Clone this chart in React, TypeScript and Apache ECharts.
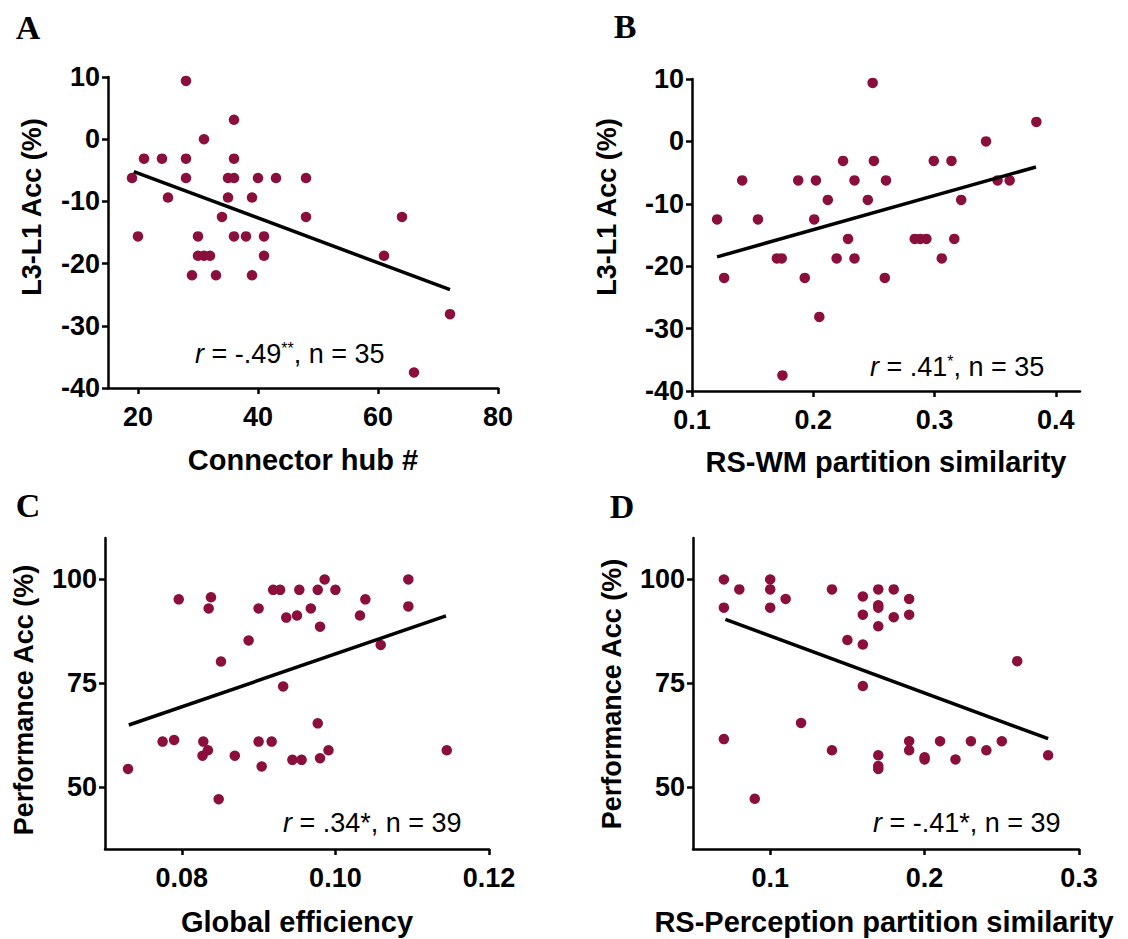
import React, { useEffect, useRef } from "react";
import * as echarts from "echarts";

// Panel A: Connector hub # vs L3-L1 Acc (%)
const hubCount = [28, 36, 31, 21, 24, 28, 36, 19, 28, 35, 36, 40, 43, 48, 25, 35, 39, 34, 48, 64, 20, 30, 36, 38, 41, 30, 31, 32, 41, 61, 29, 33, 39, 72, 66];
const accDiffA = [9.375, 3.125, 0, -3.125, -3.125, -3.125, -3.125, -6.25, -6.25, -6.25, -6.25, -6.25, -6.25, -6.25, -9.375, -9.375, -9.375, -12.5, -12.5, -12.5, -15.625, -15.625, -15.625, -15.625, -15.625, -18.75, -18.75, -18.75, -18.75, -18.75, -21.875, -21.875, -21.875, -28.125, -37.5];
const fitA = [[19.3, -5.2], [72, -24.2]];

// Panel B: RS-WM partition similarity vs L3-L1 Acc (%)
const rsWm = [0.249, 0.384, 0.3425, 0.2246, 0.25, 0.2994, 0.314, 0.1414, 0.1876, 0.2022, 0.234, 0.26, 0.352, 0.362, 0.212, 0.245, 0.322, 0.1207, 0.1544, 0.2008, 0.2287, 0.2837, 0.2883, 0.2933, 0.3163, 0.17, 0.174, 0.2193, 0.234, 0.306, 0.1265, 0.193, 0.259, 0.205, 0.1746];
const accDiffB = [9.375, 3.125, 0, -3.125, -3.125, -3.125, -3.125, -6.25, -6.25, -6.25, -6.25, -6.25, -6.25, -6.25, -9.375, -9.375, -9.375, -12.5, -12.5, -12.5, -15.625, -15.625, -15.625, -15.625, -15.625, -18.75, -18.75, -18.75, -18.75, -18.75, -21.875, -21.875, -21.875, -28.125, -37.5];
const fitB = [[0.1207, -18.5], [0.3837, -4.1]];

// Panel C: Global efficiency vs Performance Acc (%)
const globalEff = [0.0796, 0.0838, 0.0835, 0.09, 0.0919, 0.0928, 0.0953, 0.0977, 0.0986, 0.1, 0.0936, 0.095, 0.0968, 0.098, 0.1039, 0.1032, 0.1095, 0.1095, 0.0887, 0.0851, 0.1059, 0.0932, 0.0977, 0.0775, 0.079, 0.0828, 0.0834, 0.0827, 0.0869, 0.09, 0.0917, 0.0904, 0.0944, 0.0956, 0.098, 0.0991, 0.1145, 0.073, 0.0848];
const perfC = [95.2, 95.7, 93.0, 93.0, 97.5, 97.5, 97.5, 97.5, 100, 97.5, 90.8, 91.3, 93.0, 88.6, 95.2, 91.3, 100, 93.5, 85.3, 80.2, 84.2, 74.2, 65.3, 60.9, 61.3, 60.9, 58.8, 57.5, 57.5, 60.9, 60.9, 54.9, 56.5, 56.5, 56.9, 58.8, 58.8, 54.3, 47.0];
const fitC = [[0.0731, 64.9], [0.1144, 91.2]];

// Panel D: RS-Perception partition similarity vs Performance Acc (%)
const rsPerc = [0.07, 0.08, 0.10, 0.10, 0.07, 0.10, 0.11, 0.14, 0.16, 0.17, 0.18, 0.19, 0.16, 0.17, 0.17, 0.18, 0.19, 0.17, 0.15, 0.16, 0.26, 0.16, 0.12, 0.07, 0.14, 0.19, 0.19, 0.17, 0.17, 0.17, 0.20, 0.21, 0.22, 0.23, 0.24, 0.25, 0.28, 0.09, 0.20];
const perfD = [100, 97.6, 100, 97.6, 93.2, 93.2, 95.3, 97.6, 95.9, 97.6, 97.6, 95.3, 91.5, 93.8, 93.2, 90.9, 91.5, 88.7, 85.4, 84.3, 80.3, 74.3, 65.4, 61.5, 58.8, 61.0, 58.8, 57.6, 55.0, 54.3, 57.1, 61.0, 56.6, 61.0, 58.8, 61.0, 57.6, 47.1, 56.6];
const fitD = [[0.071, 90.4], [0.28, 61.6]];

const ticksA_x = [20, 40, 60, 80];
const ticksA_y = [-40, -30, -20, -10, 0, 10];
const ticksB_x = [0.1, 0.2, 0.3, 0.4];
const ticksB_y = [-40, -30, -20, -10, 0, 10];
const ticksC_x = [0.08, 0.1, 0.12];
const ticksC_y = [50, 75, 100];
const ticksD_x = [0.1, 0.2, 0.3];
const ticksD_y = [50, 75, 100];

const DOT = "#8a0f3c";
const SANS = "Liberation Sans, Arial, sans-serif";
const SERIF = "Liberation Serif, Times New Roman, serif";

function zip(xs: number[], ys: number[]) {
  return xs.map((x, i) => [x, ys[i]]);
}

function axisCommon(ticks: number[], isX: boolean, fmt?: (v: number) => string) {
  return {
    axisLine: { show: true, onZero: false, lineStyle: { color: "#000", width: 2.5 } },
    axisTick: { show: true, inside: false, length: 6, customValues: ticks, lineStyle: { color: "#000", width: 2.5 } },
    axisLabel: {
      show: true,
      customValues: ticks,
      color: "#000",
      fontSize: 27,
      fontWeight: "bold",
      fontFamily: SANS,
      margin: isX ? 15 : 8,
      formatter: fmt ? (v: number) => fmt(v) : undefined,
    },
    splitLine: { show: false },
  };
}

export default function App() {
  const ref = useRef<HTMLDivElement>(null);
  useEffect(() => {
    if (!ref.current) return;
    const chart = echarts.init(ref.current, undefined, { renderer: "svg" });
    const grids = [
      { left: 108, top: 77, width: 390, height: 311 },
      { left: 692, top: 79, width: 388, height: 312 },
      { left: 105, top: 538, width: 384, height: 311 },
      { left: 693, top: 538, width: 386, height: 311 },
    ];
    const xAxes = [
      { type: "value", gridIndex: 0, min: 15, max: 80, ...axisCommon(ticksA_x, true) },
      { type: "value", gridIndex: 1, min: 0.1, max: 0.42, ...axisCommon(ticksB_x, true, (v) => v.toFixed(1)) },
      { type: "value", gridIndex: 2, min: 0.07, max: 0.12, ...axisCommon(ticksC_x, true, (v) => v.toFixed(2)) },
      { type: "value", gridIndex: 3, min: 0.05, max: 0.3, ...axisCommon(ticksD_x, true, (v) => v.toFixed(1)) },
    ];
    const yAxes = [
      { type: "value", gridIndex: 0, min: -40, max: 10, ...axisCommon(ticksA_y, false) },
      { type: "value", gridIndex: 1, min: -40, max: 10, ...axisCommon(ticksB_y, false) },
      { type: "value", gridIndex: 2, min: 35, max: 110, ...axisCommon(ticksC_y, false) },
      { type: "value", gridIndex: 3, min: 35, max: 110, ...axisCommon(ticksD_y, false) },
    ];
    const scatters = [zip(hubCount, accDiffA), zip(rsWm, accDiffB), zip(globalEff, perfC), zip(rsPerc, perfD)];
    const fits = [fitA, fitB, fitC, fitD];
    const series: any[] = [];
    scatters.forEach((d, i) => {
      series.push({
        type: "scatter",
        xAxisIndex: i,
        yAxisIndex: i,
        data: d,
        symbolSize: 10.5,
        itemStyle: { color: DOT, opacity: 1 },
        z: 3,
      });
      series.push({
        type: "line",
        xAxisIndex: i,
        yAxisIndex: i,
        data: fits[i],
        symbol: "none",
        lineStyle: { color: "#000", width: 3.5 },
        z: 4,
      });
    });

    const titleStyle = (text: string, size: number) => ({
      text,
      fill: "#000",
      fontSize: size,
      fontWeight: "bold",
      fontFamily: SANS,
      align: "center",
      verticalAlign: "middle",
    });
    const letter = (t: string, x: number, y: number) => ({
      type: "text",
      x,
      y,
      style: { text: t, fill: "#000", fontSize: 34, fontWeight: "bold", fontFamily: SERIF, align: "center", verticalAlign: "middle" },
    });
    const xTitle = (t: string, x: number, y: number) => ({ type: "text", x, y, style: titleStyle(t, 29) });
    const yTitle = (t: string, x: number, y: number) => ({ type: "text", x, y, rotation: Math.PI / 2, style: titleStyle(t, 27) });
    const rich = {
      i: { fontStyle: "italic", fontFamily: SANS, fontSize: 27, fill: "#000" },
      s: { fontFamily: SANS, fontSize: 16, fill: "#000", verticalAlign: "top" },
    };
    const annot = (t: string, x: number, y: number) => ({
      type: "text",
      x,
      y,
      style: { text: t, rich, fill: "#000", fontSize: 27, fontFamily: SANS, align: "left", verticalAlign: "middle" },
    });

    chart.setOption({
      animation: false,
      backgroundColor: "#fff",
      grid: grids,
      xAxis: xAxes,
      yAxis: yAxes,
      series,
      graphic: [
        letter("A", 28, 27),
        letter("B", 625, 26),
        letter("C", 28, 505),
        letter("D", 622, 506),
        xTitle("Connector hub #", 303, 460),
        xTitle("RS-WM partition similarity", 886, 462),
        xTitle("Global efficiency", 297, 922),
        xTitle("RS-Perception partition similarity", 884, 922),
        yTitle("L3-L1 Acc (%)", 32, 207),
        yTitle("L3-L1 Acc (%)", 607, 207),
        yTitle("Performance Acc (%)", 24, 700),
        yTitle("Performance Acc (%)", 612, 694),
        annot("{i|r} = -.49{s|**}, n = 35", 195, 354),
        annot("{i|r} = .41{s|*}, n = 35", 870, 367),
        annot("{i|r} = .34*, n = 39", 283, 823),
        annot("{i|r} = -.41*, n = 39", 873, 823),
      ],
    });
    return () => chart.dispose();
  }, []);
  return <div ref={ref} style={{ position: "absolute", left: 0, top: 0, width: 1128, height: 939 }} />;
}
